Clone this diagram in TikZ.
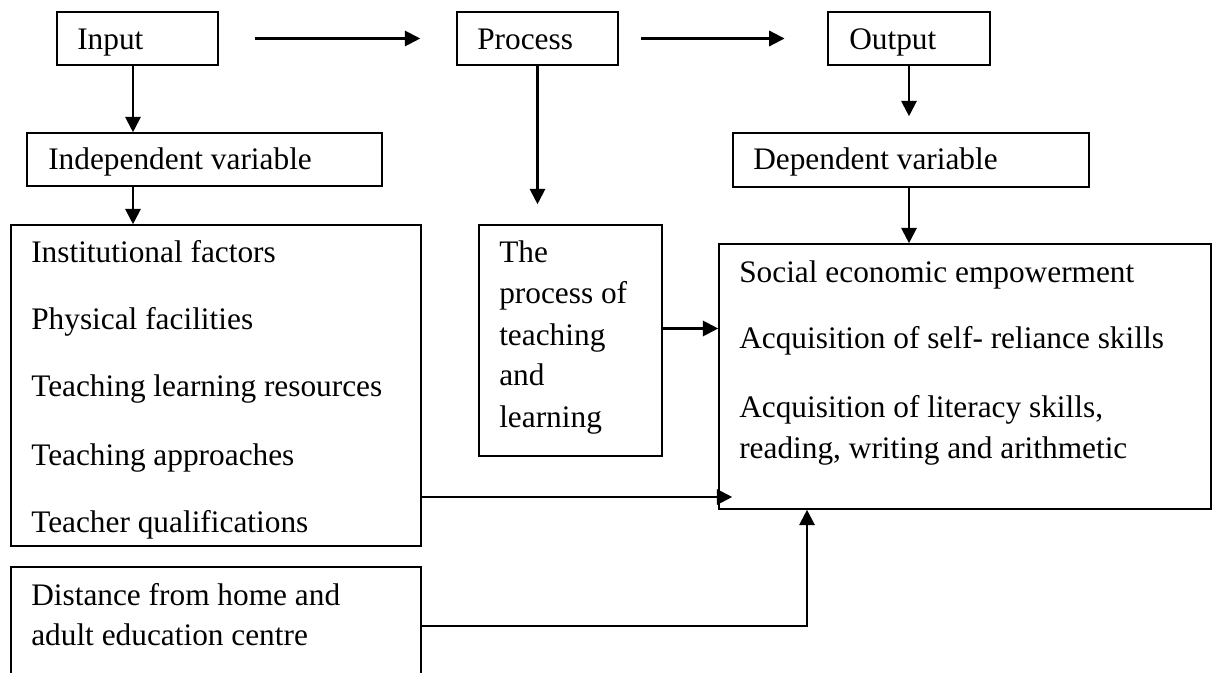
\documentclass[tikz,border=0pt]{standalone}
\usepackage{fontspec}
\setmainfont{Liberation Serif}
\usetikzlibrary{arrows.meta,fit}
\begin{document}
\begin{tikzpicture}[x=0.75pt,y=-0.75pt,
  box/.style={draw,line width=1.2pt,inner sep=0pt},
  arr/.style={-{Triangle[length=11.5pt,width=11.5pt]},line width=1.6pt},
  txt/.style={anchor=base west,inner sep=0pt,font=\fontsize{23.5}{30.75}\selectfont}]
\useasboundingbox (0,0) rectangle (1213,673);
\clip (0,0) rectangle (1213,673);
% boxes
\node[box,fit={(57,12)(218,65)}] (input) {};
\node[box,fit={(457,12)(618,65)}] (process) {};
\node[box,fit={(828,12)(990,65)}] (output) {};
\node[box,fit={(27,133)(382,186)}] (indep) {};
\node[box,fit={(733,133)(1089,187)}] (dep) {};
\node[box,fit={(11,225)(421,546)}] (factors) {};
\node[box,fit={(479,225)(662,456)}] (teach) {};
\node[box,fit={(719,244)(1211,509)}] (outcomes) {};
\node[box,fit={(11,567)(421,720)}] (distance) {};
% texts
\node[txt] (tInput) at (77,50) {Input};
\node[txt] (tProcess) at (477,50) {Process};
\node[txt] (tOutput) at (849,50) {Output};
\node[txt] (tIndep) at (48,170) {Independent variable};
\node[txt] (tDep) at (753,170) {Dependent variable};
\node[txt] (f1) at (31,263) {Institutional factors};
\node[txt] (f2) at (31,330) {Physical facilities};
\node[txt] (f3) at (31,397) {Teaching learning resources};
\node[txt] (f4) at (31,465) {Teaching approaches};
\node[txt] (f5) at (31,532) {Teacher qualifications};
\node[txt] (p1) at (499,263) {The};
\node[txt] (p2) at (499,304) {process of};
\node[txt] (p3) at (499,345) {teaching};
\node[txt] (p4) at (499,386) {and};
\node[txt] (p5) at (499,427) {learning};
\node[txt] (o1) at (739,283) {Social economic empowerment};
\node[txt] (o2) at (739,349) {Acquisition of self- reliance skills};
\node[txt] (o3) at (739,417) {Acquisition of literacy skills,};
\node[txt] (o4) at (739,458) {reading, writing and arithmetic};
\node[txt] (d1) at (31,605) {Distance from home and};
\node[txt] (d2) at (31,645) {adult education centre};
% helper coordinates
\coordinate (xa) at (133,0);
\coordinate (yA) at (0,497);
\coordinate (yB) at (0,626);
\coordinate (xB) at (807,0);
% connectors
\draw[arr] ([xshift=27pt]input.east) -- ([xshift=-27pt]process.west);
\draw[arr] ([xshift=16.5pt]process.east) -- ([xshift=-32pt]output.west);
\draw[arr] (xa |- input.south) -- (xa |- indep.north);
\draw[arr] (xa |- indep.south) -- (xa |- factors.north);
\draw[arr] (process.south) -- ([yshift=15pt]process.south |- teach.north);
\draw[arr] (output.south) -- ([yshift=12pt]output.south |- dep.north);
\draw[arr] (output.south |- dep.south) -- (output.south |- outcomes.north);
\draw[arr] ([yshift=9pt]teach.east) -- ([yshift=9pt]teach.east -| outcomes.west);
\draw[arr] (factors.east |- yA) -- ([xshift=10.5pt]outcomes.west |- yA);
\draw[arr] (distance.east |- yB) -- (xB |- yB) -- (xB |- outcomes.south);
\end{tikzpicture}
\end{document}
